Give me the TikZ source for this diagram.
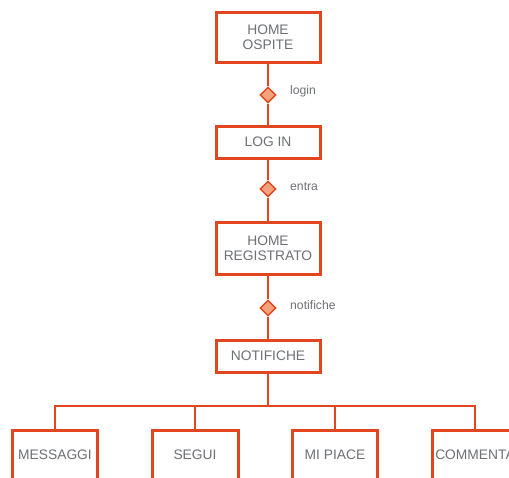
\documentclass[tikz,border=0pt]{standalone}
\usepackage{fontspec}
\setmainfont{Liberation Sans}
\usetikzlibrary{shapes.geometric}
\definecolor{edge}{HTML}{E2461E}
\definecolor{dfill}{HTML}{F4A27C}
\definecolor{txt}{HTML}{6E7075}
\tikzset{
  box/.style={draw=edge, line width=3pt, fill=white, text=txt, font=\fontsize{13.8}{15.5}\selectfont, align=center, inner sep=0pt},
  link/.style={draw=edge, line width=2.6pt},
  dia/.style={diamond, draw=edge, fill=dfill, line width=1.4pt, minimum width=16pt, minimum height=16pt, inner sep=0pt},
  lbl/.style={text=txt, font=\fontsize{12.2}{14}\selectfont, anchor=west, inner sep=0pt},
}
\begin{document}
\begin{tikzpicture}[x=1pt,y=-1pt]
\useasboundingbox (0,0) rectangle (509,477);
\clip (0,0) rectangle (509,477);
\node[box, minimum width=104pt, minimum height=50pt] (ho) at (268,37) {HOME\\OSPITE};
\node[box, minimum width=104pt, minimum height=32pt] (li) at (268,142) {LOG IN};
\node[box, minimum width=104pt, minimum height=52pt] (hr) at (268,248) {HOME\\REGISTRATO};
\node[box, minimum width=104pt, minimum height=32pt] (no) at (268,356) {NOTIFICHE};
\node[box, minimum width=85pt, minimum height=50pt] (me) at (55,455) {MESSAGGI};
\node[box, minimum width=86pt, minimum height=50pt] (se) at (195,455) {SEGUI};
\node[box, minimum width=85pt, minimum height=50pt] (mp) at (335,455) {MI PIACE};
\node[box, minimum width=86pt, minimum height=50pt] (co) at (475,455) {COMMENTA};
\coordinate (bar) at (268,406);
\node[dia] (d1) at (268,95) {};
\node[dia] (d2) at (268,189) {};
\node[dia] (d3) at (268,308) {};
\path[link] (ho.south) -- (d1.north) (d1.south) -- (li.north);
\path[link] (li.south) -- (d2.north) (d2.south) -- (hr.north);
\path[link] (hr.south) -- (d3.north) (d3.south) -- (no.north);
\path[link] (no.south) -- (bar);
\path[link] (me.north) |- (bar) -| (co.north);
\path[link] (se.north) -- (se.north |- bar);
\path[link] (mp.north) -- (mp.north |- bar);
\node[lbl] (l1) at (290,91) {login};
\node[lbl] (l2) at (290,187) {entra};
\node[lbl] (l3) at (290,305) {notifiche};
\end{tikzpicture}
\end{document}
